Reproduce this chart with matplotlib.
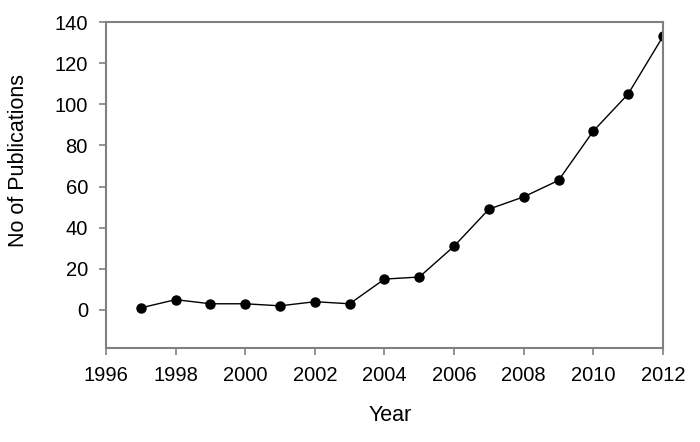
import matplotlib
matplotlib.use("Agg")
import matplotlib.pyplot as plt

years = [1997, 1998, 1999, 2000, 2001, 2002, 2003, 2004, 2005, 2006,
         2007, 2008, 2009, 2010, 2011, 2012]
pubs = [1, 5, 3, 3, 2, 4, 3, 15, 16, 31, 49, 55, 63, 87, 105, 133]
xticks = list(range(1996, 2013, 2))
yticks = list(range(0, 141, 20))

plt.rcParams["font.family"] = ["Liberation Sans", "DejaVu Sans"]

fig = plt.figure(figsize=(7, 4.42), dpi=100)
ax = fig.add_axes([0.1514, 0.2127, 0.7957, 0.7375])

ax.plot(years, pubs, color="black", linewidth=1, marker="o",
        markersize=6.5, markerfacecolor="black", markeredgecolor="black")

ax.set_xlim(1996, 2012)
ax.set_ylim(-18.5, 140)
ax.set_xticks(xticks)
ax.set_yticks(yticks)
ax.tick_params(axis="both", direction="out", length=5, width=1.2,
               color="#808080", labelsize=14.5, pad=8)
for s in ax.spines.values():
    s.set_color("#808080")
    s.set_linewidth(1.5)

# axis titles placed as figure text to match the original offsets
fig.text(0.027, 0.636, "No of Publications", fontsize=15.5, rotation=90,
         ha="center", va="center")
fig.text(0.557, 0.061, "Year", fontsize=15.5, ha="center", va="center")

fig.savefig("out.png", dpi=100)
plt.close(fig)
